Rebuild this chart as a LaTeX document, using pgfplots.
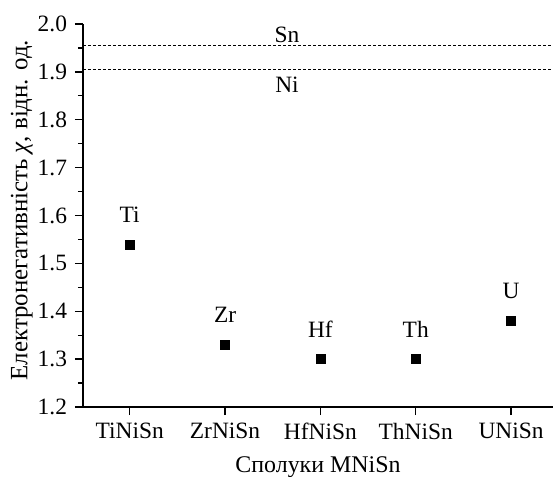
\documentclass[border=0pt]{standalone}
\usepackage{pgfplots}
\pgfplotsset{compat=1.18}
\usepackage{fontspec}
\setmainfont{Liberation Serif}
\begin{document}%
\fontsize{23.5}{28}\selectfont%
\begin{tikzpicture}
\begin{axis}[
  name=ax,
  scale only axis,
  width=470bp, height=383bp,
  xmin=-0.49, xmax=4.44,
  ymin=1.2, ymax=2.0,
  axis x line*=bottom, axis y line*=left,
  axis line style={line width=1.6bp, -},
  xtick={0,1,2,3,4},
  xticklabels={TiNiSn,ZrNiSn,HfNiSn,ThNiSn,UNiSn},
  ytick={1.2,1.3,...,2.01},
  minor ytick={1.25,1.35,...,1.96},
  yticklabel style={/pgf/number format/.cd, fixed, fixed zerofill, precision=1},
  /pgf/number format/assume math mode=true,
  tick align=outside,
  major tick length=8bp, minor tick length=5bp,
  tick style={line width=1.3bp, black},
  ticklabel style={font=\fontsize{23.5}{28}\selectfont},
  xlabel={Сполуки MNiSn},
  ylabel={Електронегативність \textit{χ}, відн. од.},
  xlabel style={font=\fontsize{24}{28}\selectfont, at={(axis description cs:0.5,-0.17)}, anchor=base},
  ylabel style={font=\fontsize{25}{30}\selectfont, at={(axis description cs:-0.1185,0.514)}, anchor=base},
  clip=false,
]
\addplot[only marks, mark=square*, mark size=4.5bp, black,
  nodes near coords, point meta=explicit symbolic,
  every node near coord/.append style={anchor=base, yshift=22bp, font=\fontsize{23.5}{28}\selectfont}]
  table[meta=lab] {
x y lab
0 1.54 Ti
1 1.33 Zr
2 1.30 Hf
3 1.30 Th
4 1.38 U
};
\addplot[black, line width=0.9bp, dash pattern=on 3bp off 2bp] coordinates {(-0.49,1.955) (4.44,1.955)};
\addplot[black, line width=0.9bp, dash pattern=on 3bp off 2bp] coordinates {(-0.49,1.906) (4.44,1.906)};
\node[anchor=base] at (axis cs:1.65,1.955) [yshift=3bp] {Sn};
\node[anchor=base] at (axis cs:1.65,1.906) [yshift=-23bp] {Ni};
\end{axis}
\pgfresetboundingbox
\path[use as bounding box] ([shift={(-83bp,-70bp)}]ax.south west) rectangle ([shift={(0bp,24bp)}]ax.north east);
\end{tikzpicture}%
\end{document}
